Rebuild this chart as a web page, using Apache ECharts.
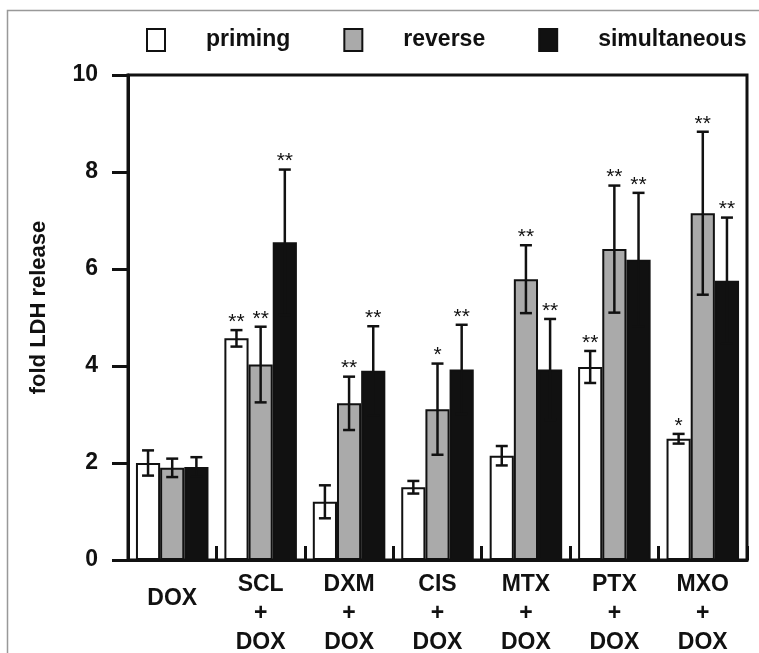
<!DOCTYPE html>
<html>
<head>
<meta charset="utf-8">
<script src="https://cdn.jsdelivr.net/npm/echarts@6/dist/echarts.min.js"></script>
<style>html,body{margin:0;padding:0;background:#fff;}#c{width:759px;height:653px;}</style>
</head>
<body>
<div id="c"></div>
<script>
const categories = ['DOX', 'SCL\n+\nDOX', 'DXM\n+\nDOX', 'CIS\n+\nDOX', 'MTX\n+\nDOX', 'PTX\n+\nDOX', 'MXO\n+\nDOX'];
const seriesNames = ['priming', 'reverse', 'simultaneous'];
const primingMean = [2.0, 4.57, 1.2, 1.5, 2.15, 3.98, 2.5];
const primingSD   = [0.26, 0.17, 0.34, 0.13, 0.2, 0.33, 0.1];
const reverseMean = [1.9, 4.03, 3.23, 3.11, 5.79, 6.41, 7.15];
const reverseSD   = [0.19, 0.78, 0.55, 0.94, 0.7, 1.31, 1.68];
const simulMean   = [1.92, 6.55, 3.9, 3.93, 3.93, 6.19, 5.76];
const simulSD     = [0.2, 1.5, 0.92, 0.92, 1.04, 1.38, 1.3];
const primingSig  = ['', '**', '', '', '', '**', '*'];
const reverseSig  = ['', '**', '**', '*', '**', '**', '**'];
const simulSig    = ['', '**', '**', '**', '**', '**', '**'];
const yTicks = [0, 2, 4, 6, 8, 10];

const means = [primingMean, reverseMean, simulMean];
const sds = [primingSD, reverseSD, simulSD];
const sigs = [primingSig, reverseSig, simulSig];
const colors = ['#ffffff', '#aaaaaa', '#111111'];
const CAT_GAP = 0.18;
const FONT = 'Liberation Sans, Arial, sans-serif';

const chart = echarts.init(document.getElementById('c'));

const barSeries = seriesNames.map((n, i) => ({
  name: n,
  type: 'bar',
  data: means[i],
  barGap: '0%',
  barCategoryGap: (CAT_GAP * 100) + '%',
  itemStyle: { color: colors[i], borderColor: '#111', borderWidth: 2 },
  emphasis: { disabled: true },
  z: 2
}));

const errSeries = seriesNames.map((n, i) => ({
  type: 'custom',
  name: n + '_err',
  data: means[i].map((m, j) => [j, m, sds[i][j]]),
  z: 5,
  renderItem: function (params, api) {
    const idx = api.value(0);
    const m = api.value(1);
    const sd = api.value(2);
    const sig = sigs[i][idx];
    const band = api.size([1, 0])[0];
    const bw = band * (1 - CAT_GAP) / 3;
    const c = api.coord([idx, m]);
    const x = c[0] + (i - 1) * bw;
    const yHi = api.coord([idx, m + sd])[1];
    const yLo = api.coord([idx, m - sd])[1];
    const cap = 6;
    const st = { stroke: '#111', lineWidth: 2.5 };
    const children = [
      { type: 'line', shape: { x1: x, y1: yHi, x2: x, y2: yLo }, style: st },
      { type: 'line', shape: { x1: x - cap, y1: yHi, x2: x + cap, y2: yHi }, style: st },
      { type: 'line', shape: { x1: x - cap, y1: yLo, x2: x + cap, y2: yLo }, style: st }
    ];
    if (sig) {
      children.push({
        type: 'text',
        style: { text: sig, x: x, y: yHi - 1, align: 'center', verticalAlign: 'bottom',
          fontSize: 21, fontFamily: FONT, fill: '#111', lineHeight: 14 }
      });
    }
    return { type: 'group', children: children };
  }
}));

chart.setOption({
  animation: false,
  backgroundColor: '#fff',
  graphic: [
    { type: 'polyline', shape: { points: [[7.5, 653], [7.5, 10.5], [759, 10.5]] },
      style: { stroke: '#999', lineWidth: 1.5, fill: null } }
  ],
  legend: {
    data: seriesNames,
    left: 146, top: 28, padding: 0,
    itemWidth: 18, itemHeight: 22,
    itemGap: 53,
    icon: 'rect',
    textStyle: { fontSize: 23, fontWeight: 'bold', fontFamily: FONT, color: '#111', padding: [0, 0, 0, 36] }
  },
  grid: { left: 128, right: 12, top: 75, bottom: 93, show: true, borderColor: '#111', borderWidth: 3,
    outerBoundsMode: 'none', containLabel: false },
  xAxis: {
    type: 'category',
    data: categories.map((c, i) => i === 0 ? { value: c, textStyle: { lineHeight: 58 } } : c),
    axisLine: { lineStyle: { color: '#111', width: 3 } },
    axisTick: { show: true, inside: true, length: 14, lineStyle: { color: '#111', width: 3 } },
    axisLabel: { interval: 0, margin: 10, fontSize: 23, fontWeight: 'bold', fontFamily: FONT, color: '#111', lineHeight: 29 }
  },
  yAxis: {
    type: 'value',
    min: yTicks[0], max: yTicks[yTicks.length - 1], interval: 2,
    name: 'fold LDH release',
    nameLocation: 'middle', nameRotate: 90, nameGap: 78,
    nameTextStyle: { fontSize: 22, fontWeight: 'bold', fontFamily: FONT, color: '#111', padding: [0, 0, 0, 20] },
    splitLine: { show: false },
    axisLine: { show: true, lineStyle: { color: '#111', width: 3 } },
    axisTick: { show: true, length: 16, lineStyle: { color: '#111', width: 3 } },
    axisLabel: { margin: 30, fontSize: 23, fontWeight: 'bold', fontFamily: FONT, color: '#111' }
  },
  series: barSeries.concat(errSeries)
});
</script>
</body>
</html>
